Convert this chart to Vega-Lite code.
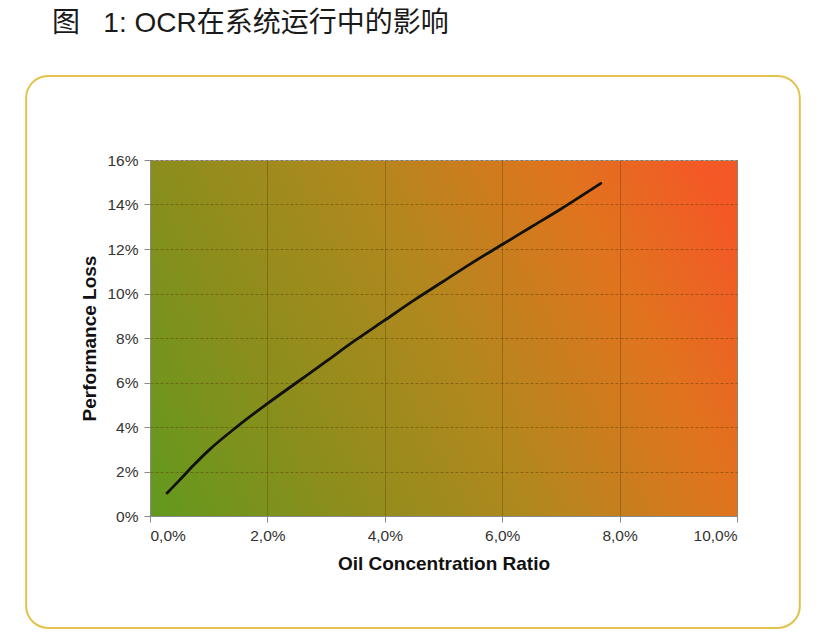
{
  "$schema": "https://vega.github.io/schema/vega-lite/v6.json",
  "autosize": "none",
  "width": 587,
  "height": 356,
  "padding": {"left": 150, "top": 160, "right": 86, "bottom": 124},
  "background": "white",
  "title": {
    "text": "图\u00a0\u00a0 1: OCR在系统运行中的影响",
    "anchor": "start",
    "frame": "group",
    "dx": -98,
    "offset": 37,
    "font": "Liberation Sans, Noto Sans CJK SC",
    "fontSize": 28,
    "fontWeight": "normal",
    "color": "#1a1a1a"
  },
  "config": {
    "view": {
      "stroke": "#b0b0b0",
      "strokeWidth": 1,
      "fill": {
        "gradient": "linear",
        "x1": 0, "y1": 1, "x2": 1.139, "y2": 0.644,
        "stops": [
          {"offset": 0, "color": "#62991e"},
          {"offset": 0.25, "color": "#8a8e1c"},
          {"offset": 0.52, "color": "#b0881e"},
          {"offset": 0.8, "color": "#e0741e"},
          {"offset": 1, "color": "#f45826"}
        ]
      }
    },
    "axis": {
      "labelFont": "Liberation Sans",
      "labelFontSize": 15.5,
      "labelColor": "#333333",
      "titleFont": "Liberation Sans",
      "titleFontSize": 19,
      "titleFontWeight": "bold",
      "titleColor": "#111111",
      "domainColor": "#8a8a8a",
      "tickColor": "#8a8a8a",
      "tickSize": 6,
      "gridColor": "#5a3a00",
      "gridOpacity": 0.45,
      "gridDash": [3, 2],
      "gridWidth": 1
    }
  },
  "datasets": {
    "curve": [
      {"ratio": 0.0029, "loss": 0.0103},
      {"ratio": 0.005, "loss": 0.016},
      {"ratio": 0.0075, "loss": 0.023},
      {"ratio": 0.010, "loss": 0.0295},
      {"ratio": 0.015, "loss": 0.0405},
      {"ratio": 0.020, "loss": 0.0505},
      {"ratio": 0.025, "loss": 0.060},
      {"ratio": 0.030, "loss": 0.0695},
      {"ratio": 0.035, "loss": 0.079},
      {"ratio": 0.040, "loss": 0.088},
      {"ratio": 0.045, "loss": 0.097},
      {"ratio": 0.050, "loss": 0.1055},
      {"ratio": 0.055, "loss": 0.114},
      {"ratio": 0.060, "loss": 0.122},
      {"ratio": 0.065, "loss": 0.130},
      {"ratio": 0.070, "loss": 0.138},
      {"ratio": 0.0768, "loss": 0.1495}
    ]
  },
  "layer": [
    {
      "data": {"values": [{}]},
      "mark": {
        "type": "rect",
        "clip": false,
        "fill": "transparent",
        "stroke": "#e2c24a",
        "strokeWidth": 2,
        "cornerRadius": 22
      },
      "encoding": {
        "x": {"datum": -0.0211, "type": "quantitative", "scale": {"domain": [0, 0.1], "nice": false, "zero": false}},
        "x2": {"datum": 0.1107},
        "y": {"datum": -0.0503, "type": "quantitative", "scale": {"domain": [0, 0.16], "nice": false, "zero": false}},
        "y2": {"datum": 0.1978}
      }
    },
    {
      "data": {"name": "curve"},
      "mark": {"type": "line", "color": "#111111", "strokeWidth": 2.8, "interpolate": "monotone", "strokeCap": "round"},
      "encoding": {
        "x": {
          "field": "ratio",
          "type": "quantitative",
          "title": "Oil Concentration Ratio",
          "scale": {"domain": [0, 0.1], "nice": false, "zero": false},
          "axis": {
            "values": [0, 0.02, 0.04, 0.06, 0.08, 0.1],
            "labelExpr": "replace(format(datum.value, '.1%'), '.', ',')",
            "labelPadding": 6,
            "titlePadding": 11,
            "grid": true,
            "gridDash": [],
            "gridOpacity": 0.35
          }
        },
        "y": {
          "field": "loss",
          "type": "quantitative",
          "title": "Performance Loss",
          "scale": {"domain": [0, 0.16], "nice": false, "zero": false},
          "axis": {
            "values": [0, 0.02, 0.04, 0.06, 0.08, 0.1, 0.12, 0.14, 0.16],
            "format": ".0%",
            "labelPadding": 6,
            "titlePadding": 7,
            "grid": true
          }
        }
      }
    }
  ]
}
